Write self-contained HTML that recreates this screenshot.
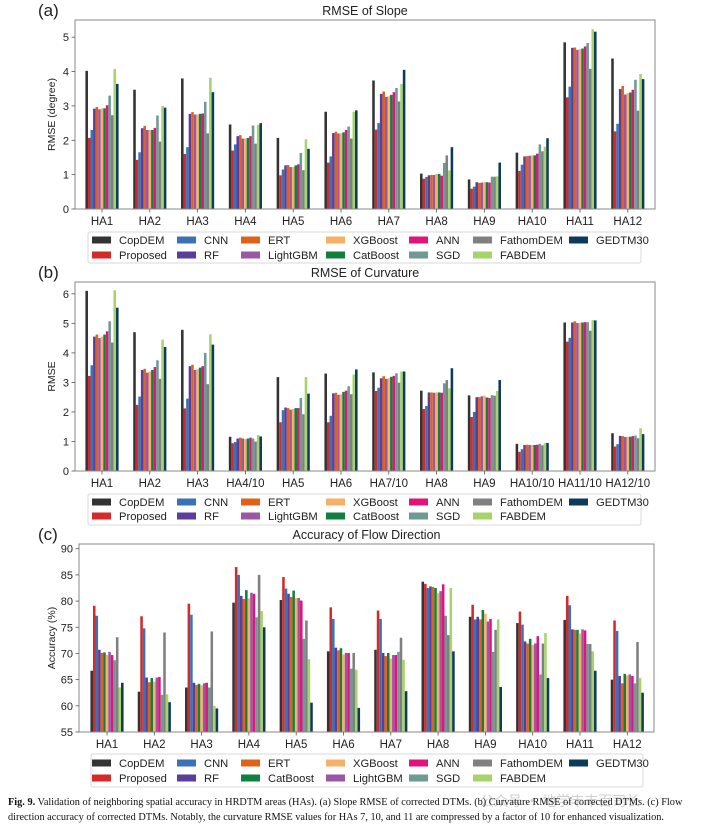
<!DOCTYPE html>
<html><head><meta charset="utf-8">
<style>
html,body{margin:0;padding:0;background:#fff;}
body{width:708px;height:830px;overflow:hidden;position:relative;font-family:"Liberation Sans",sans-serif;}
svg{position:absolute;left:0;top:0;}
.cap{position:absolute;left:8px;top:795px;width:700px;font-family:"Liberation Serif",serif;font-size:10.3px;line-height:15px;color:#111;}
</style></head>
<body>
<svg id="fig" width="708" height="830"></svg>
<div class="cap"><b>Fig. 9.</b> Validation of neighboring spatial accuracy in HRDTM areas (HAs). (a) Slope RMSE of corrected DTMs. (b) Curvature RMSE of corrected DTMs. (c) Flow direction accuracy of corrected DTMs. Notably, the curvature RMSE values for HAs 7, 10, and 11 are compressed by a factor of 10 for enhanced visualization.</div>
<script>
const seriesAB = ["CopDEM","Proposed","CNN","RF","ERT","LightGBM","XGBoost","CatBoost","ANN","SGD","FathomDEM","FABDEM","GEDTM30"];
const seriesC = ["CopDEM","Proposed","CNN","RF","ERT","CatBoost","XGBoost","LightGBM","ANN","SGD","FathomDEM","FABDEM","GEDTM30"];
const catsA = ["HA1","HA2","HA3","HA4","HA5","HA6","HA7","HA8","HA9","HA10","HA11","HA12"];
const catsB = ["HA1","HA2","HA3","HA4/10","HA5","HA6","HA7/10","HA8","HA9","HA10/10","HA11/10","HA12/10"];
const catsC = ["HA1","HA2","HA3","HA4","HA5","HA6","HA7","HA8","HA9","HA10","HA11","HA12"];
const ticksA = [0,1,2,3,4,5];
const ticksB = [0,1,2,3,4,5,6];
const ticksC = [55,60,65,70,75,80,85,90];
const slopeValues = [
[4.02,2.07,2.30,2.92,2.97,2.90,2.93,2.93,3.02,3.30,2.73,4.07,3.64],
[3.47,1.43,1.65,2.35,2.42,2.30,2.30,2.30,2.36,2.72,1.96,3.00,2.95],
[3.80,1.60,1.80,2.77,2.82,2.75,2.75,2.77,2.78,3.12,2.20,3.82,3.40],
[2.46,1.70,1.88,2.12,2.15,2.05,2.05,2.07,2.12,2.43,1.90,2.45,2.50],
[2.07,0.98,1.15,1.27,1.28,1.22,1.22,1.27,1.30,1.63,1.13,2.03,1.75],
[2.83,1.35,1.53,2.21,2.25,2.20,2.20,2.23,2.30,2.40,2.05,2.83,2.87],
[3.74,2.31,2.50,3.35,3.42,3.26,3.28,3.32,3.40,3.52,3.13,3.64,4.05],
[1.03,0.88,0.93,0.98,0.99,0.99,1.02,1.02,0.97,1.34,1.56,1.12,1.80],
[0.86,0.59,0.65,0.78,0.76,0.77,0.78,0.78,0.77,0.94,0.94,0.95,1.35],
[1.64,1.11,1.29,1.53,1.54,1.55,1.56,1.56,1.61,1.88,1.68,1.81,2.06],
[4.85,3.25,3.56,4.69,4.70,4.63,4.65,4.67,4.73,4.83,4.08,5.23,5.16],
[4.38,2.26,2.48,3.49,3.58,3.33,3.37,3.39,3.47,3.76,2.86,3.93,3.78]];
const curvValues = [
[6.10,3.22,3.58,4.55,4.62,4.50,4.55,4.62,4.73,5.07,4.35,6.12,5.53],
[4.70,2.24,2.52,3.42,3.46,3.33,3.37,3.42,3.52,3.75,3.12,4.45,4.20],
[4.78,2.12,2.45,3.55,3.60,3.42,3.45,3.50,3.55,4.00,2.94,4.63,4.28],
[1.16,0.94,0.98,1.10,1.13,1.10,1.08,1.10,1.13,1.10,1.00,1.22,1.17],
[3.18,1.65,2.06,2.15,2.13,2.08,2.10,2.13,2.13,2.47,1.92,3.18,2.62],
[3.30,1.65,1.87,2.63,2.65,2.58,2.60,2.68,2.72,2.87,2.60,3.27,3.44],
[3.34,2.71,2.82,3.14,3.21,3.12,3.14,3.19,3.22,3.31,2.99,3.37,3.37],
[2.72,2.10,2.20,2.66,2.66,2.65,2.66,2.66,2.65,2.97,3.08,2.80,3.48],
[2.56,1.83,2.00,2.50,2.50,2.53,2.55,2.49,2.47,2.57,2.55,2.71,3.08],
[0.92,0.65,0.74,0.88,0.89,0.88,0.88,0.88,0.89,0.92,0.87,0.94,0.95],
[5.03,4.38,4.51,5.03,5.07,5.01,5.02,5.03,5.04,5.04,4.75,5.11,5.10],
[1.28,0.83,0.91,1.19,1.18,1.15,1.16,1.16,1.18,1.20,1.11,1.45,1.25]];
const flowValues = [
[66.7,79.1,77.2,70.7,70.1,70.2,69.7,70.3,69.7,68.7,73.1,63.5,64.4],
[62.7,77.1,74.8,65.4,64.5,65.3,64.6,65.4,65.5,62.1,74.0,62.2,60.7],
[63.5,79.5,77.4,64.4,64.0,64.2,63.9,64.3,64.4,63.5,74.2,60.0,59.5],
[79.7,86.5,85.0,81.0,80.4,82.1,80.5,81.6,81.4,76.9,85.0,78.1,75.0],
[80.2,84.6,82.4,81.4,80.8,82.0,80.6,80.6,80.1,72.8,76.3,68.9,60.6],
[70.4,78.8,76.6,71.1,70.6,71.0,69.8,70.1,70.1,67.1,70.1,66.9,59.6],
[70.7,78.2,76.6,70.1,69.5,70.1,69.0,69.7,69.7,70.3,73.0,68.8,62.8],
[83.7,83.3,82.5,82.8,82.7,82.5,81.5,81.9,83.2,77.2,73.5,82.5,70.4],
[77.0,79.3,76.5,77.0,76.5,78.3,77.6,76.1,76.6,70.3,74.5,76.5,63.6],
[75.8,78.0,75.5,72.3,71.9,72.8,71.6,71.9,73.3,66.0,71.9,73.9,65.3],
[76.4,81.0,79.2,74.6,74.5,74.5,73.8,74.6,74.4,71.8,71.8,70.4,66.7],
[65.0,76.3,74.3,65.7,64.3,66.1,65.8,66.0,65.7,64.3,72.2,65.3,62.5]];

const COLORS={CopDEM:"#333333",Proposed:"#d42a2a",CNN:"#3a72b8",RF:"#5a3e9a",ERT:"#e0621a",XGBoost:"#f7b068",LightGBM:"#9b56a6",CatBoost:"#11803f",ANN:"#e0147a",SGD:"#6f9a94",FathomDEM:"#808080",FABDEM:"#a6d46a",GEDTM30:"#0d3b5c"};
const NS="http://www.w3.org/2000/svg";
const svg=document.getElementById('fig');
function mk(tag,attrs,parent,text){const e=document.createElementNS(NS,tag);for(const k in attrs)e.setAttribute(k,attrs[k]);if(text!==undefined)e.textContent=text;(parent||svg).appendChild(e);return e;}

function panel(p){
  const g=mk('g',{});
  
  
  const ys=v=>p.bottom-(v-p.ymin)/(p.ymax-p.ymin)*(p.bottom-p.top);
  const xc=i=>p.x0+i*p.step;
  const bw=2.55, n=p.series.length;
  p.values.forEach((row,i)=>{row.forEach((v,j)=>{
    const x=xc(i)-n*bw/2+j*bw, y=ys(v);
    const r=mk('rect',{x:x.toFixed(2),y:y.toFixed(2),width:bw,height:(p.bottom-y).toFixed(2),fill:COLORS[p.series[j]]},g);
    
    
  });});
  const fr=mk('rect',{x:p.left,y:p.top,width:p.right-p.left,height:p.bottom-p.top,fill:'none',stroke:'#8a8a8a','stroke-width':1},g);
  
  
  p.ticks.forEach(t=>{const y=ys(t);
    mk('line',{x1:p.left-3.5,x2:p.left,y1:y,y2:y,stroke:'#555','stroke-width':0.8},g);
    const tl=mk('text',{x:p.left-6,y:y+4,'font-size':11,'text-anchor':'end',fill:'#222'},g,t);
    
    
  });
  p.cats.forEach((c,i)=>{
    mk('line',{x1:xc(i),x2:xc(i),y1:p.bottom,y2:p.bottom+3.5,stroke:'#555','stroke-width':0.8},g);
    const tl=mk('text',{x:xc(i),y:p.bottom+16,'font-size':11.5,'text-anchor':'middle',fill:'#222'},g,c);
    
    
  });
  const tt=mk('text',{x:(p.left+p.right)/2,y:p.top-5,'font-size':12.5,'text-anchor':'middle',fill:'#222'},g,p.title);
  
  
  const pl=mk('text',{x:38,y:p.top-4,'font-size':17,fill:'#222'},g,p.label);
  
  
  const yc=(p.top+p.bottom)/2;
  const yt=mk('text',{x:p.yx,y:yc,'font-size':10.5,'text-anchor':'middle',fill:'#222',transform:'rotate(-90 '+p.yx+' '+yc+')'},g,p.ylabel);
  
  
  // legend
  const lg=mk('g',{});
  
  
  mk('rect',{x:p.lx0,y:p.ly0,width:p.lx1-p.lx0,height:p.ly1-p.ly0,fill:'#fff',stroke:'#d8d8d8','stroke-width':1,rx:2},lg);
  const cols=[92,177,241,326,409,473,569];
  p.legend.forEach((name,k)=>{const c=Math.floor(k/2),r=k%2;const y=p.rows[r];
    mk('rect',{x:cols[c],y:y-3.5,width:19,height:7,fill:COLORS[name]},lg);
    const lt=mk('text',{x:cols[c]+27,y:y+4,'font-size':11.2,fill:'#222'},lg,name);
    
    
  });
}
const legAB=["CopDEM","Proposed","CNN","RF","ERT","LightGBM","XGBoost","CatBoost","ANN","SGD","FathomDEM","FABDEM","GEDTM30"];
const legC=["CopDEM","Proposed","CNN","RF","ERT","CatBoost","XGBoost","LightGBM","ANN","SGD","FathomDEM","FABDEM","GEDTM30"];
panel({id:'slope',left:75,right:655,top:20,bottom:209,ymin:0,ymax:5.5,ticks:ticksA,cats:catsA,values:slopeValues,series:seriesAB,
  x0:102,step:47.8,title:'RMSE of Slope',label:'(a)',ylabel:'RMSE (degree)',yx:55,legend:legAB,lx0:88,lx1:641,ly0:232,ly1:263,rows:[240,255]});
panel({id:'curvature',left:75,right:655,top:282,bottom:471,ymin:0,ymax:6.4,ticks:ticksB,cats:catsB,values:curvValues,series:seriesAB,
  x0:102,step:47.8,title:'RMSE of Curvature',label:'(b)',ylabel:'RMSE',yx:55,legend:legAB,lx0:88,lx1:641,ly0:494,ly1:525,rows:[502,516]});
panel({id:'flow',left:79,right:654,top:544,bottom:732,ymin:55,ymax:90.9,ticks:ticksC,cats:catsC,values:flowValues,series:seriesC,
  x0:107,step:47.3,title:'Accuracy of Flow Direction',label:'(c)',ylabel:'Accuracy (%)',yx:55,legend:legC,lx0:91,lx1:643,ly0:754,ly1:787,rows:[763,778]});
const wm=mk('text',{x:480,y:806,'font-size':14,fill:'#bbb','font-family':'"Noto Sans CJK SC",sans-serif','opacity':0.7},svg,'公众号 · 地学丰丰百司长');


</script>
</body></html>
